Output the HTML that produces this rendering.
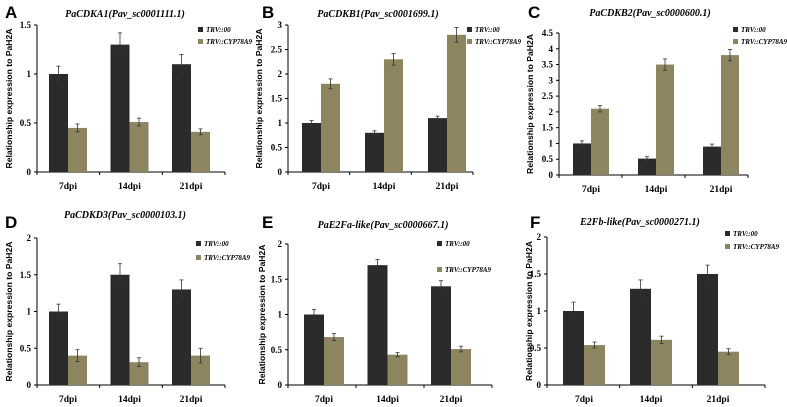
<!DOCTYPE html>
<html><head><meta charset="utf-8"><style>
html,body{margin:0;padding:0;background:#fff;width:787px;height:407px;overflow:hidden}
svg text{font-family:"Liberation Serif",serif;font-weight:bold}
.ylab{font-family:"Liberation Sans",sans-serif;font-size:8.6px;font-weight:bold}
.letter{font-family:"Liberation Sans",sans-serif;font-size:17px;font-weight:bold}
</style></head><body>
<svg id="fig" width="787" height="407" xmlns="http://www.w3.org/2000/svg"></svg>
<script>
const categories = ["7dpi","14dpi","21dpi"];
const seriesNames = ["TRV::00","TRV::CYP78A9"];
const titles = ["PaCDKA1(Pav_sc0001111.1)","PaCDKB1(Pav_sc0001699.1)","PaCDKB2(Pav_sc0000600.1)","PaCDKD3(Pav_sc0000103.1)","PaE2Fa-like(Pav_sc0000667.1)","E2Fb-like(Pav_sc0000271.1)"];
const panelLetters = ["A","B","C","D","E","F"];
const yMax = [1.5,3,4.5,2,2,2];
const yStep = [0.5,0.5,0.5,0.5,0.5,0.5];
const ctrlValues = [[1,1.3,1.1],[1,0.8,1.1],[1,0.52,0.9],[1,1.5,1.3],[1,1.7,1.4],[1,1.3,1.5]];
const ctrlErr = [[0.08,0.12,0.1],[0.05,0.04,0.04],[0.08,0.06,0.08],[0.1,0.15,0.13],[0.07,0.08,0.08],[0.12,0.12,0.12]];
const trtValues = [[0.45,0.51,0.41],[1.8,2.3,2.8],[2.1,3.5,3.8],[0.4,0.31,0.4],[0.68,0.43,0.51],[0.54,0.61,0.45]];
const trtErr = [[0.04,0.04,0.03],[0.1,0.12,0.15],[0.1,0.18,0.18],[0.08,0.06,0.1],[0.05,0.03,0.04],[0.04,0.05,0.04]];

// layout (not data)
const L = [
 {ax:37,y0:172,yT:25,xEnd:225,g0:49,gs:61.5,w:19,tx:125,ty:17,lx:198,ly:31,lg:12,lab:[5,12],ylx:12},
 {ax:288,y0:172,yT:25,xEnd:473,g0:302,gs:63,w:19,tx:378,ty:17,lx:467,ly:31,lg:12,lab:[262,12],ylx:262},
 {ax:559,y0:175,yT:33,xEnd:748,g0:573,gs:65,w:18,tx:650,ty:16,lx:733,ly:31,lg:12,lab:[528,12],ylx:533},
 {ax:37,y0:385,yT:238,xEnd:225,g0:49,gs:61.5,w:19,tx:125,ty:218,lx:196,ly:245,lg:14,lab:[5,222],ylx:12},
 {ax:288,y0:385,yT:244,xEnd:492,g0:304,gs:63.5,w:20,tx:383,ty:228,lx:437,ly:245,lg:26,lab:[262,222],ylx:265},
 {ax:547,y0:385,yT:237,xEnd:765,g0:563,gs:67,w:21,tx:640,ty:225,lx:725,ly:235,lg:13,lab:[530,222],ylx:532}
];
const colors = ["#2b2b2b","#8c8560"];
const NS="http://www.w3.org/2000/svg";
const svg=document.getElementById('fig');
function mk(tag,attrs,parent){const e=document.createElementNS(NS,tag);for(const k in attrs)e.setAttribute(k,attrs[k]);(parent||svg).appendChild(e);return e;}
for(let p=0;p<6;p++){
 const l=L[p];
 const g=mk('g',{});
 
 
 const y=v=>l.y0-(v/yMax[p])*(l.y0-l.yT);
 let t=mk('text',{x:l.lab[0],y:l.lab[1]+6,class:'letter'},g);t.textContent=panelLetters[p];
 
 t=mk('text',{x:l.tx,y:l.ty,'text-anchor':'middle','font-size':10,'font-style':'italic'},g);t.textContent=titles[p];
 
 t=mk('text',{x:0,y:0,class:'ylab','text-anchor':'middle',transform:`translate(${l.ylx},${(l.y0+l.yT)/2}) rotate(-90)`},g);
 t.textContent='Relationship expression to PaH2A';
 
 let a=mk('line',{x1:l.ax,y1:l.yT,x2:l.ax,y2:l.y0,stroke:'#000','stroke-width':1},g);
 
 a=mk('line',{x1:l.ax,y1:l.y0,x2:l.xEnd,y2:l.y0,stroke:'#000','stroke-width':1},g);
 
 for(let v=0;v<=yMax[p]+1e-9;v+=yStep[p]){
  mk('line',{x1:l.ax-3,y1:y(v),x2:l.ax,y2:y(v),stroke:'#000'},g);
  const tt=mk('text',{x:l.ax-6,y:y(v)+3,'text-anchor':'end','font-size':9},g);
  tt.textContent=String(Math.round(v*10)/10);
  
 }
 for(let i=0;i<=3;i++){const xx=l.ax+(l.xEnd-l.ax)*i/3;mk('line',{x1:xx,y1:l.y0,x2:xx,y2:l.y0+3,stroke:'#000'},g);}
 const vals=[ctrlValues[p],trtValues[p]],errs=[ctrlErr[p],trtErr[p]];
 for(let c=0;c<3;c++){
  const gx=l.g0+l.gs*c;
  for(let s=0;s<2;s++){
   const bx=gx+s*l.w,v=vals[s][c],e=errs[s][c];
   const r=mk('rect',{x:bx,y:y(v),width:l.w,height:l.y0-y(v),fill:colors[s]},g);
   
   
   const cx=bx+l.w/2;
   mk('line',{x1:cx,y1:y(v+e),x2:cx,y2:y(v-e),stroke:'#333','stroke-width':0.8},g);
   mk('line',{x1:cx-2,y1:y(v+e),x2:cx+2,y2:y(v+e),stroke:'#333','stroke-width':0.8},g);
   mk('line',{x1:cx-2,y1:y(v-e),x2:cx+2,y2:y(v-e),stroke:'#333','stroke-width':0.8},g);
  }
  const ct=mk('text',{x:gx+l.w,y:l.y0+17,'text-anchor':'middle','font-size':9.5},g);
  ct.textContent=categories[c];
  
 }
 for(let s=0;s<2;s++){
  const ly=l.ly+s*l.lg;
  const lr=mk('rect',{x:l.lx,y:ly-4,width:5,height:5,fill:colors[s]},g);
  
  const lt=mk('text',{x:l.lx+8,y:ly+1,'font-size':7,'font-style':'italic'},g);
  lt.textContent=seriesNames[s];
  
 }
}
</script>
</body></html>
